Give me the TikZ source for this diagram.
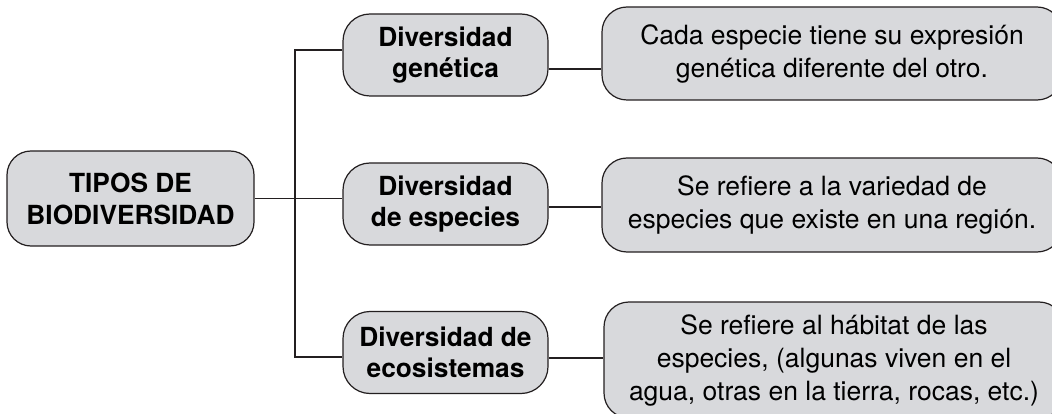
\documentclass[tikz,border=0pt]{standalone}
\usepackage{fontspec}
\setmainfont{TeX Gyre Heros}
\definecolor{boxfill}{RGB}{216,217,220}
\definecolor{ink}{RGB}{35,31,32}
\begin{document}
\begin{tikzpicture}[x=1pt,y=-1pt,
  box/.style={draw=ink,line width=1.2pt,fill=boxfill,align=center,inner sep=0pt},
  headbox/.style={box,rounded corners=24pt,minimum width=247pt,minimum height=95pt,
     font=\fontsize{26.3}{32}\selectfont\bfseries},
  midbox/.style={box,rounded corners=27pt,minimum width=205pt,minimum height=82pt,
     font=\fontsize{26.3}{31.5}\selectfont\bfseries},
  descbox/.style={box,rounded corners=25pt,minimum width=460pt,
     font=\fontsize{26.5}{33}\selectfont},
  link/.style={draw=ink,line width=1.2pt}]
\useasboundingbox (0,0) rectangle (1052,414);
\clip (0,0) rectangle (1052,414);
\node[headbox] (L) at (130.5,198.5) {TIPOS DE\\BIODIVERSIDAD};
\node[midbox] (M1) at (445.5,55) {Diversidad\\genética};
\node[midbox] (M2) at (445.5,204) {Diversidad\\de especies};
\node[midbox] (M3) at (445.5,352.5) {Diversidad de\\ecosistemas};
\node[descbox,minimum height=93pt] (R1) at (832,53.5) {Cada especie tiene su expresión\\genética diferente del otro.};
\node[descbox,minimum height=94pt] (R2) at (832,205) {Se refiere a la variedad de\\especies que existe en una región.};
\node[descbox,minimum height=116pt] (R3) at (834,360) {Se refiere al hábitat de las\\especies, (algunas viven en el\\agua, otras en la tierra, rocas, etc.)};
\coordinate (b1) at (295,50);
\coordinate (b3) at (295,357);
\coordinate (c1) at (575,69);
\coordinate (c2) at (575,207);
\coordinate (c3) at (575,358);
\draw[link] (L.east) -- (L.east -| M2.west);
\draw[link] (M1.west |- b1) -- (b1) -- (b3) -- (M3.west |- b3);
\draw[link] (M1.east |- c1) -- (R1.west |- c1);
\draw[link] (M2.east |- c2) -- (R2.west |- c2);
\draw[link] (M3.east |- c3) -- (R3.west |- c3);
\end{tikzpicture}
\end{document}
